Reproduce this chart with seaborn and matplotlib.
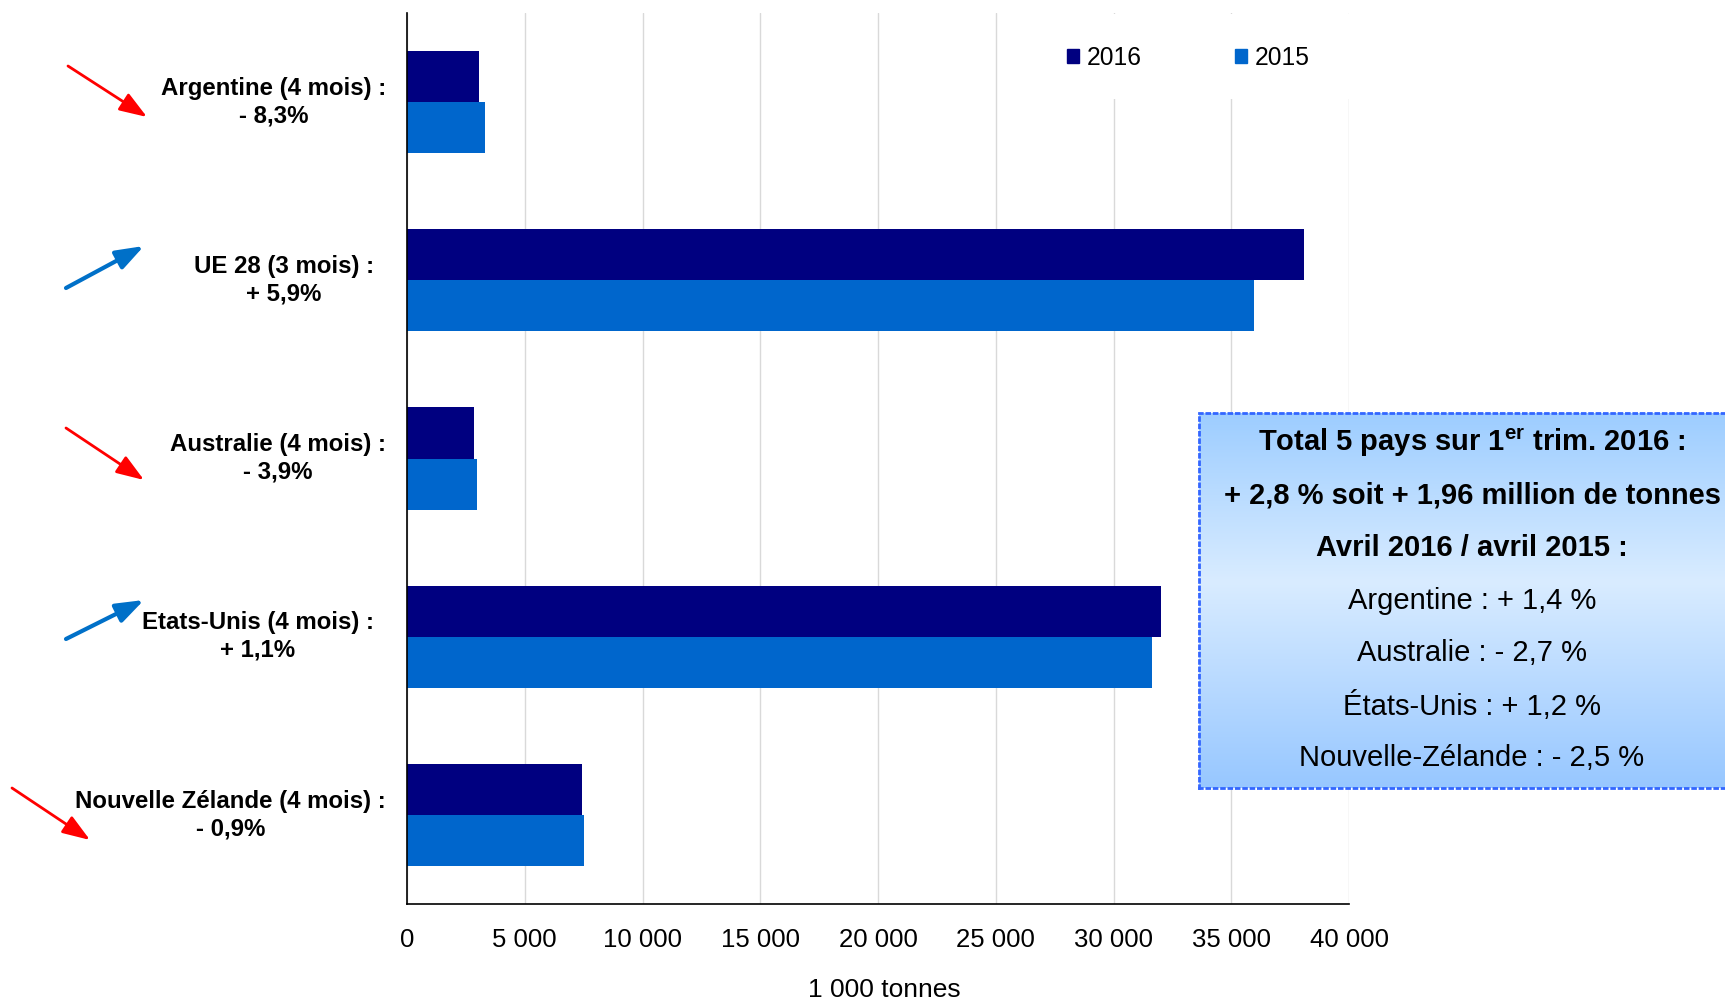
import numpy as np
import pandas as pd
import seaborn as sns
import matplotlib.pyplot as plt
from matplotlib.colors import LinearSegmentedColormap
from matplotlib.patches import Patch, Rectangle
from matplotlib.transforms import blended_transform_factory

# Données (1 000 tonnes)
pays = ['Argentine', 'UE 28', 'Australie', 'Etats-Unis', 'Nouvelle Zélande']
etiquettes = ['Argentine (4 mois) :\n- 8,3%',
              'UE 28 (3 mois) :\n+ 5,9%',
              'Australie (4 mois) :\n- 3,9%',
              'Etats-Unis (4 mois) :\n+ 1,1%',
              'Nouvelle Zélande (4 mois) :\n- 0,9%']
tendance = ['baisse', 'hausse', 'baisse', 'hausse', 'baisse']
annees = ['2016', '2015']
valeurs_2016 = [3040, 38080, 2850, 32000, 7430]
valeurs_2015 = [3320, 35980, 2970, 31640, 7500]
graduations = [0, 5000, 10000, 15000, 20000, 25000, 30000, 35000, 40000]
graduations_txt = ['0', '5 000', '10 000', '15 000', '20 000', '25 000', '30 000', '35 000', '40 000']
encadre_gras = ['Total 5 pays sur $\\mathbf{1^{er}}$ trim. 2016 :',
                '+ 2,8 % soit + 1,96 million de tonnes',
                'Avril 2016 / avril 2015 :']
encadre_normal = ['Argentine : + 1,4 %',
                  'Australie : - 2,7 %',
                  'États-Unis : + 1,2 %',
                  'Nouvelle-Zélande : - 2,5 %']

couleurs = {'2016': '#000080', '2015': '#0066cc'}

sns.set_style('white')
plt.rcParams['font.family'] = ['Liberation Sans', 'DejaVu Sans']
plt.rcParams['mathtext.fontset'] = 'custom'
plt.rcParams['mathtext.rm'] = 'Liberation Sans'
plt.rcParams['mathtext.bf'] = 'Liberation Sans:bold'
plt.rcParams['text.color'] = 'black'
plt.rcParams['axes.labelcolor'] = 'black'
plt.rcParams['xtick.color'] = 'black'

df = pd.DataFrame({
    'pays': pays * 2,
    'valeur': valeurs_2016 + valeurs_2015,
    'annee': ['2016'] * len(pays) + ['2015'] * len(pays),
})

W, H = 1725, 999
fig = plt.figure(figsize=(W / 100, H / 100), dpi=100)
ax = fig.add_axes([407 / W, 1 - 904 / H, (1349 - 407) / W, (904 - 13) / H])

sns.barplot(data=df, y='pays', x='valeur', hue='annee', hue_order=annees,
            order=pays, palette=couleurs, orient='h', width=0.574,
            saturation=1, linewidth=0, ax=ax, legend=False)

ax.set_xlim(0, 40000)
ax.set_ylim(len(pays) - 0.5, -0.5)
ax.set_xticks(graduations)
ax.set_xticklabels(graduations_txt, fontsize=18.5)
ax.set_yticks(np.arange(-0.5, len(pays), 1.0))
ax.set_yticklabels([])
ax.set_ylabel('')
ax.set_xlabel('1 000 tonnes', fontsize=19)
ax.xaxis.set_label_coords(0.507, -0.083)
ax.tick_params(axis='x', length=7, width=1, color='#555555', pad=10)
ax.tick_params(axis='y', length=7, width=1, color='#888888')
ax.grid(axis='x', color='#d9d9d9', linewidth=1)
ax.set_axisbelow(True)
for s in ['top', 'right']:
    ax.spines[s].set_visible(False)
for s in ['left', 'bottom']:
    ax.spines[s].set_color('black')
    ax.spines[s].set_linewidth(1.2)

# Zone blanche derrière la légende
ax.add_patch(Rectangle((1005 / W, 1 - 99 / H), (1360 - 1005) / W, (99 - 14) / H,
                       transform=fig.transFigure, facecolor='white',
                       edgecolor='none', zorder=0.8, clip_on=False))
poignees = [Patch(color=couleurs[a], label=a) for a in annees]
ax.legend(handles=poignees, ncol=2, loc='center',
          bbox_to_anchor=(1188 / W, 1 - 58 / H), bbox_transform=fig.transFigure,
          frameon=False, fontsize=17.7, handlelength=0.5, handleheight=0.5,
          handletextpad=0.3, columnspacing=3.8)

# Étiquettes des pays et flèches
trans = blended_transform_factory(fig.transFigure, ax.transData)
droites = [386, 374, 386, 374, 386]
for i, (txt, d) in enumerate(zip(etiquettes, droites)):
    ax.text(d / W, i, txt, transform=trans, ha='right', va='center',
            multialignment='center', fontsize=17.3, fontweight='bold',
            linespacing=1.25, clip_on=False)

fleches = [((68, 66), (147, 117)), ((66, 288), (144, 246)), ((66, 428), (144, 480)),
           ((66, 639), (144, 600)), ((12, 788), (90, 840))]
for (debut, fin), t in zip(fleches, tendance):
    coul = '#ff0000' if t == 'baisse' else '#0070c8'
    lw = 2 if t == 'baisse' else 3
    ax.annotate('', xy=(fin[0], H - fin[1]), xytext=(debut[0], H - debut[1]),
                xycoords='figure pixels', textcoords='figure pixels',
                arrowprops=dict(arrowstyle='-|>,head_length=0.7,head_width=0.25',
                                color=coul, lw=lw, mutation_scale=24,
                                shrinkA=0, shrinkB=0))

# Encadré
box = fig.add_axes([1199 / W, 1 - 788 / H, 1 - 1199 / W, (788 - 413) / H])
cmap = LinearSegmentedColormap.from_list('bleu', [(0, '#9dcdff'), (0.45, '#d9ecff'), (1, '#97c7ff')])
box.imshow(np.linspace(0, 1, 256).reshape(-1, 1), cmap=cmap, aspect='auto', extent=[0, 1, 0, 1])
box.set_xticks([])
box.set_yticks([])
box.spines['right'].set_visible(False)
for s in ['left', 'top', 'bottom']:
    box.spines[s].set_color('#3366ff')
    box.spines[s].set_linestyle(':')
    box.spines[s].set_linewidth(2)

lignes_y = [443, 496, 548, 601, 653, 706, 758]
for y, txt in zip(lignes_y, encadre_gras + encadre_normal):
    gras = txt in encadre_gras
    fig.text(1472 / W, 1 - y / H, txt, ha='center', va='center', fontsize=21,
             fontweight='bold' if gras else 'normal')

fig.savefig('out.png', dpi=100)
